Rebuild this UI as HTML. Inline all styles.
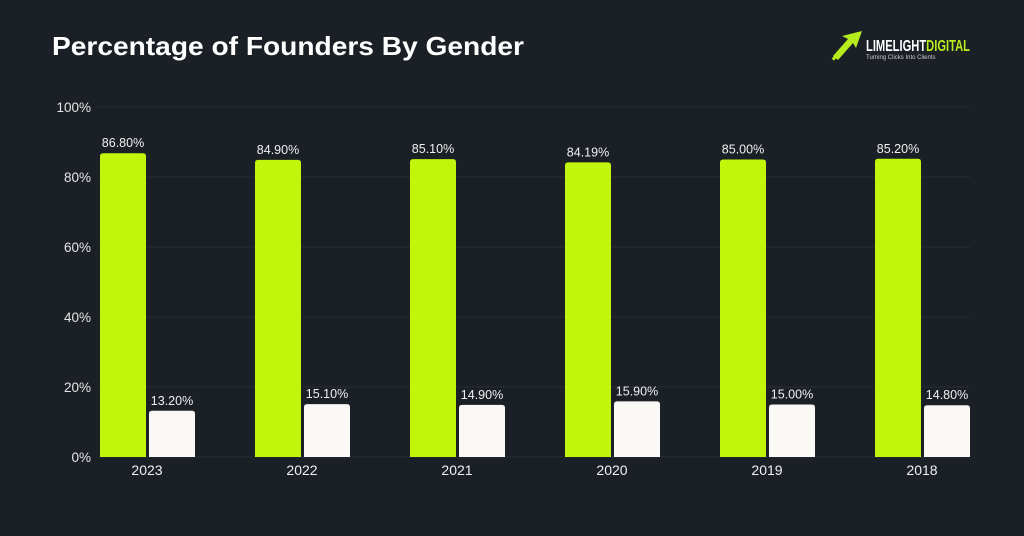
<!DOCTYPE html>
<html><head><meta charset="utf-8"><style>
body{margin:0;background:#1b1f26;}
svg{display:block;font-family:"Liberation Sans",sans-serif;}
</style></head><body>
<svg id="chart" width="1024" height="536">
<rect width="1024" height="536" fill="#1b1f26"/>
<text x="52" y="55" fill="#ffffff" font-size="26" font-weight="bold" textLength="472" lengthAdjust="spacingAndGlyphs">Percentage of Founders By Gender</text>
<g>
<g fill="#b6ec1c">
<polygon points="862,31 842,36 848,39 833,56 838,60 853,43 856,48"/>
<rect x="836" y="47" width="3" height="14" transform="rotate(40 837 54)"/>
</g>
<text x="866" y="51" fill="#ffffff" font-size="16" font-weight="bold" textLength="104" lengthAdjust="spacingAndGlyphs">LIMELIGHT<tspan fill="#b6ec1c">DIGITAL</tspan></text>
<text x="866" y="59" fill="#cccccc" font-size="6">Turning Clicks Into Clients</text>
</g>
<g id="grid"></g><g id="bars"></g>
</svg>
<script>
const years=["2023","2022","2021","2020","2019","2018"];
const male=[86.80,84.90,85.10,84.19,85.00,85.20];
const female=[13.20,15.10,14.90,15.90,15.00,14.80];
const ticks=[0,20,40,60,80,100];
const ns="http://www.w3.org/2000/svg";
const y0=457,pxPer=3.5,xStart=98,step=155;
const yS=v=>y0-v*pxPer;
const xS=i=>xStart+i*step;
function mk(t,a,p){const e=document.createElementNS(ns,t);for(const k in a)e.setAttribute(k,a[k]);p.appendChild(e);return e;}
const g=document.getElementById('grid'),b=document.getElementById('bars');
ticks.forEach(t=>{
 const l=mk('line',{x1:98,x2:970,y1:yS(t),y2:yS(t),stroke:'#2a2f38','stroke-width':1},g);
 
 
 const tx=mk('text',{x:91,y:yS(t)+5,fill:'#e6e6e6','font-size':13.5,'text-anchor':'end'},g);
 tx.textContent=t+'%';
 
 
});
function bar(x,v,col,name){
 const y=yS(v);
 const p=mk('path',{d:`M${x},${y0} V${y+3} Q${x},${y} ${x+3},${y} H${x+43} Q${x+46},${y} ${x+46},${y+3} V${y0} Z`,fill:col},b);
 
 
 const t=mk('text',{x:x+23,y:y-6,fill:'#f0f0f0','font-size':12.5,'text-anchor':'middle'},b);
 t.textContent=v.toFixed(2)+'%';
 
 
}
years.forEach((yr,i)=>{
 bar(xS(i)+2,male[i],'#c2f50c','bar-male-'+yr);
 bar(xS(i)+51,female[i],'#fbf9f6','bar-female-'+yr);
 const t=mk('text',{x:xS(i)+49,y:475,fill:'#f0f0f0','font-size':14,'text-anchor':'middle'},b);
 t.textContent=yr;
 
 
});
</script>
</body></html>
